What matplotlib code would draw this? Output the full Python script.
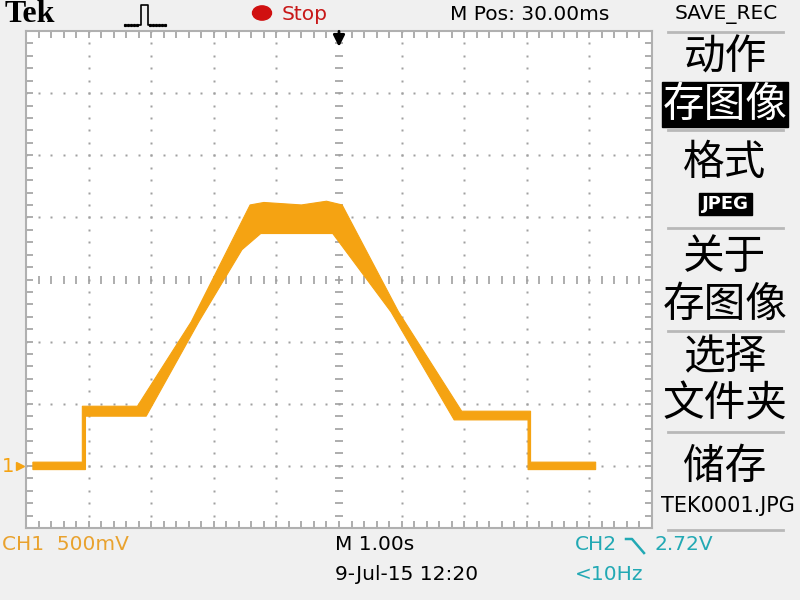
import numpy as np
import matplotlib
matplotlib.use("Agg")
import matplotlib.pyplot as plt
from matplotlib.lines import Line2D
from matplotlib.patches import Rectangle, Circle

plt.rcParams['font.family'] = ['DejaVu Sans', 'Noto Sans CJK SC']

# CH1 trace envelope (time in s relative to trigger, volts relative to ground)
upper_t = [-4.89, -4.10, -4.10, -3.22, -2.36, -1.42, -1.20, -0.60, -0.20, 0.05, 0.95, 1.96, 3.06, 3.06, 4.10]
upper_v = [0.03, 0.03, 0.48, 0.48, 1.16, 2.10, 2.12, 2.10, 2.13, 2.10, 1.24, 0.44, 0.44, 0.03, 0.03]
lower_t = [-4.89, -4.05, -4.05, -3.08, -2.24, -1.55, -1.25, -0.10, 0.83, 1.84, 3.02, 3.02, 4.10]
lower_v = [-0.03, -0.03, 0.40, 0.40, 1.16, 1.74, 1.87, 1.87, 1.24, 0.37, 0.37, -0.03, -0.03]

sec_per_div = 1.0
volt_per_div = 0.5
ground_div = -3

menu_items = ["动作", "存图像", "格式", "JPEG", "关于", "存图像", "选择", "文件夹", "储存", "TEK0001.JPG"]
menu_y = [58, 105, 163, 204, 258, 306, 357, 405, 467, 506]
menu_sep_y = [32, 130, 228, 331, 432, 530]

orange = '#f5a312'
teal = '#22a9b4'
grid_c = '#a0a0a0'

W, H = 800, 600
fig = plt.figure(figsize=(8, 6), dpi=100, facecolor='#f0f0f0')


def fx(x):
    return x / W


def fy(y):
    return 1 - y / H


ax = fig.add_axes([fx(26), fy(528), 626 / W, 497 / H])
ax.set_facecolor('white')
xmin, xmax = -5 * sec_per_div, 5 * sec_per_div
ymin, ymax = (-4 - ground_div) * volt_per_div, (4 - ground_div) * volt_per_div
ax.set_xlim(xmin, xmax)
ax.set_ylim(ymin, ymax)

# graticule: dotted grid lines
xs_minor = np.arange(xmin, xmax + 1e-9, sec_per_div / 5)
ys_minor = np.arange(ymin, ymax + 1e-9, volt_per_div / 5)
for k in range(1, 10):
    if k == 5:
        continue
    x = xmin + k * sec_per_div
    ax.plot(np.full_like(ys_minor, x), ys_minor, ls='none', marker='s', ms=1.9, color=grid_c, mec='none')
for k in range(1, 8):
    if k == 4:
        continue
    y = ymin + k * volt_per_div
    ax.plot(xs_minor, np.full_like(xs_minor, y), ls='none', marker='s', ms=1.9, color=grid_c, mec='none')
# centre lines with tick marks
xc, yc = 0.0, ymin + 4 * volt_per_div
ax.plot(np.full_like(ys_minor, xc), ys_minor, ls='none', marker='_', ms=6, mew=1.2, color=grid_c)
ax.plot(xs_minor, np.full_like(xs_minor, yc), ls='none', marker='|', ms=6, mew=1.2, color=grid_c)

# edge ticks
ax.set_xticks(xs_minor)
ax.set_yticks(ys_minor)
ax.tick_params(direction='in', length=5, width=1.2, color=grid_c,
               top=True, right=True, labelbottom=False, labelleft=False)
for s in ax.spines.values():
    s.set_color('#b0b0b0')
    s.set_linewidth(1.5)

# trace
poly_t = np.r_[upper_t, lower_t[::-1]]
poly_v = np.r_[upper_v, lower_v[::-1]]
ax.fill(poly_t, poly_v, color=orange, lw=0.8, zorder=5)

# trigger position arrow
ax.annotate('', xy=(0, ymax - 0.15), xytext=(0, ymax + 0.02),
            arrowprops=dict(arrowstyle='-|>', color='black', lw=2, mutation_scale=17),
            annotation_clip=False)

# ground marker
fig.text(fx(8), fy(466), '1', color=orange, fontsize=14, ha='center', va='center')
ax.plot([xmin - 0.09], [0], marker='>', ms=6, color=orange, clip_on=False)

# top bar
fig.text(fx(5), fy(15), 'Tek', fontsize=23, fontweight='bold', family='Liberation Serif',
         ha='left', va='center', color='black')
for seg in ([125, 140], [150, 168]):
    xs = np.arange(seg[0], seg[1], 3)
    fig.add_artist(Line2D([fx(v) for v in xs], [fy(25)] * len(xs), transform=fig.transFigure,
                          ls='none', marker='s', ms=1.3, color='black'))
fig.add_artist(Line2D([fx(139), fx(141), fx(141), fx(148), fx(148), fx(150)],
                      [fy(25), fy(25), fy(5), fy(5), fy(25), fy(25)],
                      transform=fig.transFigure, color='black', lw=1.2))
fig.add_artist(Circle((fx(262), fy(13)), 9.5 / W, transform=fig.transFigure, color='#d01010'))
fig.text(fx(282), fy(14), 'Stop', color='#c81818', fontsize=14.5, ha='left', va='center')
fig.text(fx(450), fy(14), 'M Pos: 30.00ms', color='black', fontsize=14.5, ha='left', va='center')
fig.text(fx(726), fy(14), 'SAVE_REC', color='black', fontsize=14.5, ha='center', va='center')

# right menu
for y in menu_sep_y:
    fig.add_artist(Line2D([fx(668), fx(783)], [fy(y), fy(y)], transform=fig.transFigure,
                          color='#b8b8b8', lw=2))
fig.add_artist(Rectangle((fx(662), fy(127)), 126 / W, 45 / H, transform=fig.transFigure, color='black'))
fig.add_artist(Rectangle((fx(699), fy(215)), 53 / W, 22 / H, transform=fig.transFigure, color='black'))
for i, (txt, y) in enumerate(zip(menu_items, menu_y)):
    if txt == 'JPEG':
        fig.text(fx(725), fy(y), txt, color='white', fontsize=13, fontweight='bold',
                 ha='center', va='center')
    elif txt.startswith('TEK'):
        fig.text(fx(728), fy(y), txt, color='black', fontsize=15, ha='center', va='center')
    else:
        col = 'white' if i == 1 else 'black'
        fig.text(fx(725), fy(y), txt, color=col, fontsize=30, ha='center', va='center',
                 family=['Noto Sans CJK SC', 'DejaVu Sans'])

# bottom bar
fig.text(fx(2), fy(545), 'CH1  500mV', color='#e9a22e', fontsize=14.5, ha='left', va='center')
fig.text(fx(335), fy(545), 'M 1.00s', color='black', fontsize=14.5, ha='left', va='center')
fig.text(fx(335), fy(575), '9-Jul-15 12:20', color='black', fontsize=14.5, ha='left', va='center')
fig.text(fx(575), fy(545), 'CH2', color=teal, fontsize=14.5, ha='left', va='center')
fig.add_artist(Line2D([fx(626), fx(632), fx(644)], [fy(539), fy(539), fy(553)],
                      transform=fig.transFigure, color=teal, lw=1.8))
fig.text(fx(654), fy(545), '2.72V', color=teal, fontsize=14.5, ha='left', va='center')
fig.text(fx(575), fy(575), '<10Hz', color=teal, fontsize=14.5, ha='left', va='center')

fig.savefig('out.png', dpi=100, facecolor=fig.get_facecolor())
